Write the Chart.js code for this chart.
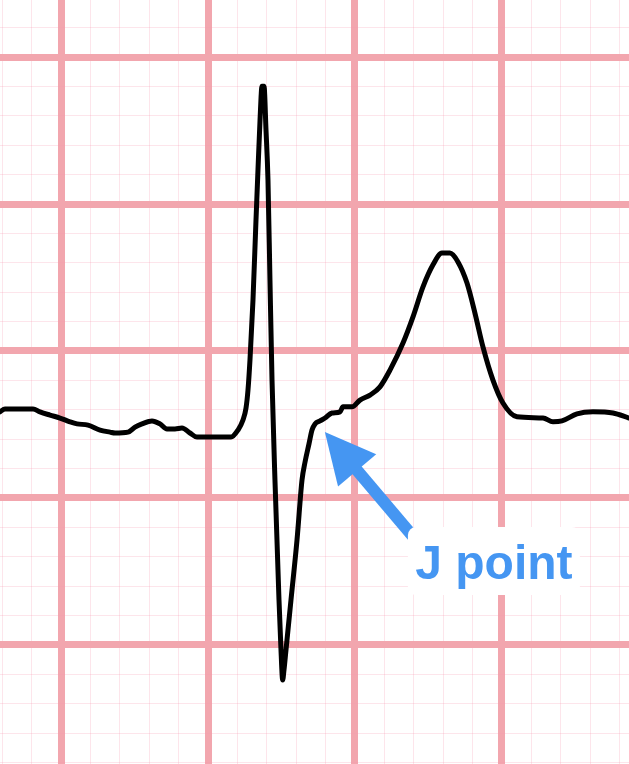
<!DOCTYPE html>
<html>
<head>
<meta charset="utf-8">
<script src="https://cdn.jsdelivr.net/npm/chart.js@4/dist/chart.umd.min.js"></script>
<style>
  html, body { margin: 0; padding: 0; background: #fff; }
  #wrap { width: 629px; height: 764px; }
</style>
</head>
<body>
<div id="wrap"><canvas id="ecgChart" width="629" height="764"></canvas></div>
<script>
// time in ms (1 small box = 40 ms), voltage in mV (1 small box = 0.1 mV)
var timesMs = [-83.0, -76.2, -38.1, -28.6, -15.0, -1.4, 12.2, 21.8, 36.7, 53.1, 66.7, 73.5,
  91.2, 100.7, 110.2, 123.8, 134.7, 144.2, 155.1, 164.6, 175.5, 185.0, 202.7, 231.3,
  240.8, 247.6, 251.7, 254.4, 257.1, 261.2, 265.3, 268.0, 270.8, 273.5, 276.2, 278.9,
  281.6, 284.3, 287.1, 291.1, 296.6, 299.3, 301.6, 303.4, 306.1, 312.9, 321.1, 327.9,
  332.0, 337.4, 341.5, 345.6, 352.4, 359.2, 368.7, 379.6, 383.7, 395.9,
  406.8, 420.4, 434.0, 447.6, 465.3, 478.9, 492.5, 506.1, 518.3, 529.2, 540.1, 552.4,
  563.2, 574.1, 587.7, 601.3, 620.4, 655.8, 669.4, 681.6, 702.0, 723.8, 751.0, 772.8];
var millivolts = [-0.207, -0.197, -0.197, -0.207, -0.218, -0.228, -0.241, -0.248, -0.252, -0.269, -0.276, -0.279,
  -0.276, -0.259, -0.248, -0.238, -0.248, -0.265, -0.265, -0.262, -0.279, -0.293, -0.293, -0.293,
  -0.269, -0.235, -0.194, -0.133, -0.031, 0.173, 0.446, 0.616, 0.786, 0.901, 0.901, 0.752,
  0.582, 0.241, -0.099, -0.439, -0.847, -1.017, -1.119, -1.085, -1.017, -0.847, -0.643, -0.439,
  -0.378, -0.316, -0.269, -0.248, -0.238, -0.228, -0.211, -0.207, -0.190, -0.190,
  -0.167, -0.150, -0.122, -0.065, 0.027, 0.116, 0.218, 0.293, 0.333, 0.333, 0.303, 0.231,
  0.129, 0.014, -0.099, -0.177, -0.224, -0.228, -0.241, -0.238, -0.214, -0.207, -0.211, -0.228];

var xRange = [-83, 772.8];
var yRange = [-1.405, 1.194];
var smallBoxMs = 40;
var smallBoxMv = 0.1;

// annotation: arrow from tail to tip (data units) and a label box
var arrowTip = [359, -0.276];
var arrowTail = [482, -0.64];
var labelText = 'J point';
var labelBox = [472, -0.599, 706, -0.830];

var majorColor = '#f2a6ae';
var minorColor = 'rgba(246,150,175,0.25)';
var blue = '#4596f2';

var pts = [];
for (var i = 0; i < timesMs.length; i++) {
  pts.push({ x: timesMs[i], y: millivolts[i] });
}

function gridTicks(step, range) {
  return function (scale) {
    var ticks = [];
    var first = Math.ceil(range[0] / step);
    var last = Math.floor(range[1] / step);
    for (var k = first; k <= last; k++) ticks.push({ value: k * step, major: k % 5 === 0 });
    scale.ticks = ticks;
  };
}

function isMajor(ctx) { return ctx.tick && ctx.tick.major; }

var annotate = {
  id: 'jpoint',
  afterDatasetsDraw: function (chart) {
    var c = chart.ctx, xs = chart.scales.x, ys = chart.scales.y;
    var tx = xs.getPixelForValue(arrowTip[0]), ty = ys.getPixelForValue(arrowTip[1]);
    var sx = xs.getPixelForValue(arrowTail[0]), sy = ys.getPixelForValue(arrowTail[1]);
    var ang = Math.atan2(ty - sy, tx - sx);
    var headLen = 50, headHalf = 25;
    var bx = tx - headLen * Math.cos(ang), by = ty - headLen * Math.sin(ang);
    c.save();
    c.strokeStyle = blue;
    c.lineWidth = 12;
    c.beginPath();
    c.moveTo(sx, sy);
    c.lineTo(bx + 4 * Math.cos(ang), by + 4 * Math.sin(ang));
    c.stroke();
    c.fillStyle = blue;
    c.beginPath();
    c.moveTo(tx, ty);
    c.lineTo(bx + headHalf * Math.sin(ang), by - headHalf * Math.cos(ang));
    c.lineTo(bx - headHalf * Math.sin(ang), by + headHalf * Math.cos(ang));
    c.closePath();
    c.fill();

    var l = xs.getPixelForValue(labelBox[0]), t = ys.getPixelForValue(labelBox[1]);
    var r = xs.getPixelForValue(labelBox[2]), b = ys.getPixelForValue(labelBox[3]);
    c.fillStyle = '#ffffff';
    c.beginPath();
    c.roundRect(l, t, r - l, b - t, 8);
    c.fill();
    c.fillStyle = blue;
    c.font = 'bold 48px "Liberation Sans", Arial, sans-serif';
    c.textAlign = 'center';
    c.textBaseline = 'alphabetic';
    c.fillText(labelText, (l + r) / 2, (t + b) / 2 + 17.5);
    c.restore();
  }
};

var ctx = document.getElementById('ecgChart').getContext('2d');
var ecgChart = new Chart(ctx, {
  type: 'line',
  data: {
    datasets: [{
      data: pts,
      borderColor: '#000000',
      borderWidth: 5,
      pointRadius: 0,
      cubicInterpolationMode: 'monotone',
      borderJoinStyle: 'round',
      borderCapStyle: 'round',
      fill: false
    }]
  },
  options: {
    responsive: false,
    animation: false,
    layout: { padding: 0 },
    plugins: { legend: { display: false }, tooltip: { enabled: false } },
    scales: {
      x: {
        type: 'linear',
        min: xRange[0],
        max: xRange[1],
        afterBuildTicks: gridTicks(smallBoxMs, xRange),
        ticks: { display: false, autoSkip: false },
        border: { display: false },
        grid: {
          drawTicks: false,
          color: function (c) { return isMajor(c) ? majorColor : minorColor; },
          lineWidth: function (c) { return isMajor(c) ? 7 : 1; }
        }
      },
      y: {
        type: 'linear',
        min: yRange[0],
        max: yRange[1],
        afterBuildTicks: gridTicks(smallBoxMv, yRange),
        ticks: { display: false, autoSkip: false },
        border: { display: false },
        grid: {
          drawTicks: false,
          color: function (c) { return isMajor(c) ? majorColor : minorColor; },
          lineWidth: function (c) { return isMajor(c) ? 7 : 1; }
        }
      }
    }
  },
  plugins: [annotate]
});
</script>
</body>
</html>
